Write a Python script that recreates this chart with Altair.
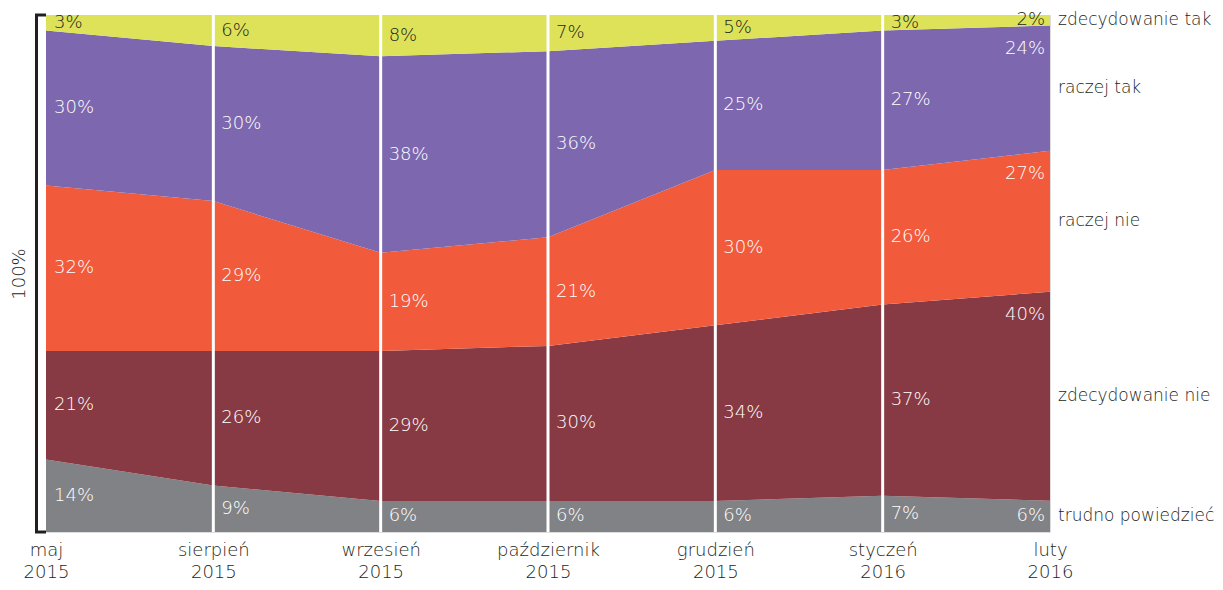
import altair as alt
import pandas as pd

months = ["maj|2015", "sierpień|2015", "wrzesień|2015", "październik|2015",
          "grudzień|2015", "styczeń|2016", "luty|2016"]
categories = ["trudno powiedzieć", "zdecydowanie nie", "raczej nie", "raczej tak", "zdecydowanie tak"]
colors = ["#818285", "#883A44", "#F15A3B", "#7D68AF", "#DDE258"]

trudno = [14, 9, 6, 6, 6, 7, 6]
zdec_nie = [21, 26, 29, 30, 34, 37, 40]
raczej_nie = [32, 29, 19, 21, 30, 26, 27]
raczej_tak = [30, 30, 38, 36, 25, 27, 24]
zdec_tak = [3, 6, 8, 7, 5, 3, 2]

series = [trudno, zdec_nie, raczej_nie, raczej_tak, zdec_tak]
rows = []
for ci, (cat, vals) in enumerate(zip(categories, series)):
    for mi, (m, v) in enumerate(zip(months, vals)):
        rows.append({"month": m, "cat": cat, "order": ci, "value": v, "mi": mi})
df = pd.DataFrame(rows)

FONT = "DejaVu Sans"
FW = 200
last = months[-1]

xenc = alt.X("month:O", sort=months, scale=alt.Scale(type="point", padding=0),
             axis=alt.Axis(title=None, domain=False, ticks=False, labelAngle=0,
                           labelExpr="split(datum.label, '|')", labelFont=FONT,
                           labelFontWeight=FW,
                           labelFontSize=18, labelColor="#231F20", labelPadding=9,
                           labelLineHeight=22, labelFlush=False))
yscale = alt.Scale(domain=[0, 1], nice=False, zero=True)

area = alt.Chart(df).mark_area(opacity=1).encode(
    x=xenc,
    y=alt.Y("value:Q", stack="normalize", scale=yscale,
            axis=alt.Axis(title="100%", labels=False, ticks=False, grid=False,
                          domain=True, domainColor="#231F20", domainWidth=3, offset=10,
                          titleFont=FONT, titleFontSize=18, titleFontWeight=FW,
                          titleColor="#231F20", titlePadding=8)),
    color=alt.Color("cat:N", scale=alt.Scale(domain=categories, range=colors), legend=None),
    order=alt.Order("order:Q", sort="ascending"),
)

bracket = alt.Chart(pd.DataFrame({"v": [0, 1]})).mark_rule(color="#231F20", strokeWidth=3).encode(
    y=alt.Y("v:Q", scale=yscale), x=alt.value(-11), x2=alt.value(0)
)

vlines = alt.Chart(pd.DataFrame({"month": months[1:-1]})).mark_rule(color="white", strokeWidth=3).encode(
    x=alt.X("month:O", sort=months)
)

stacked = alt.Chart(df).transform_stack(
    stack="value", groupby=["month"], sort=[alt.SortField("order")], as_=["v0", "v1"], offset="normalize"
).transform_calculate(
    mid="(datum.v0 + datum.v1) / 2",
    lab="datum.value + '%'",
    ly="max(datum.v1 - 0.045, (datum.v0 + datum.v1) / 2)",
)

label_color = alt.condition(alt.datum.cat == "zdecydowanie tak", alt.value("#231F20"), alt.value("white"))

labels = stacked.transform_filter(alt.datum.month != last).mark_text(
    align="left", baseline="middle", dx=8, font=FONT, fontSize=18, fontWeight=FW
).encode(
    x=alt.X("month:O", sort=months), y=alt.Y("mid:Q", scale=yscale), text="lab:N", color=label_color
)

labels_last = stacked.transform_filter(alt.datum.month == last).mark_text(
    align="right", baseline="middle", dx=-5, font=FONT, fontSize=18, fontWeight=FW
).encode(
    x=alt.X("month:O", sort=months), y=alt.Y("ly:Q", scale=yscale), text="lab:N", color=label_color
)

right_labels = stacked.transform_filter(alt.datum.month == last).mark_text(
    align="left", baseline="middle", dx=8, font=FONT, fontSize=17, fontWeight=FW, color="#231F20"
).encode(
    x=alt.X("month:O", sort=months), y=alt.Y("mid:Q", scale=yscale), text="cat:N"
)

chart = alt.layer(area, vlines, bracket, labels, labels_last, right_labels).properties(
    width=1004, height=517,
    autosize=alt.AutoSizeParams(type="none"),
    padding={"left": 38, "top": 7, "right": 165, "bottom": 50},
).configure_view(stroke=None).configure(background="white")

chart.save("out.html", embed_options={"renderer": "svg", "actions": False})
